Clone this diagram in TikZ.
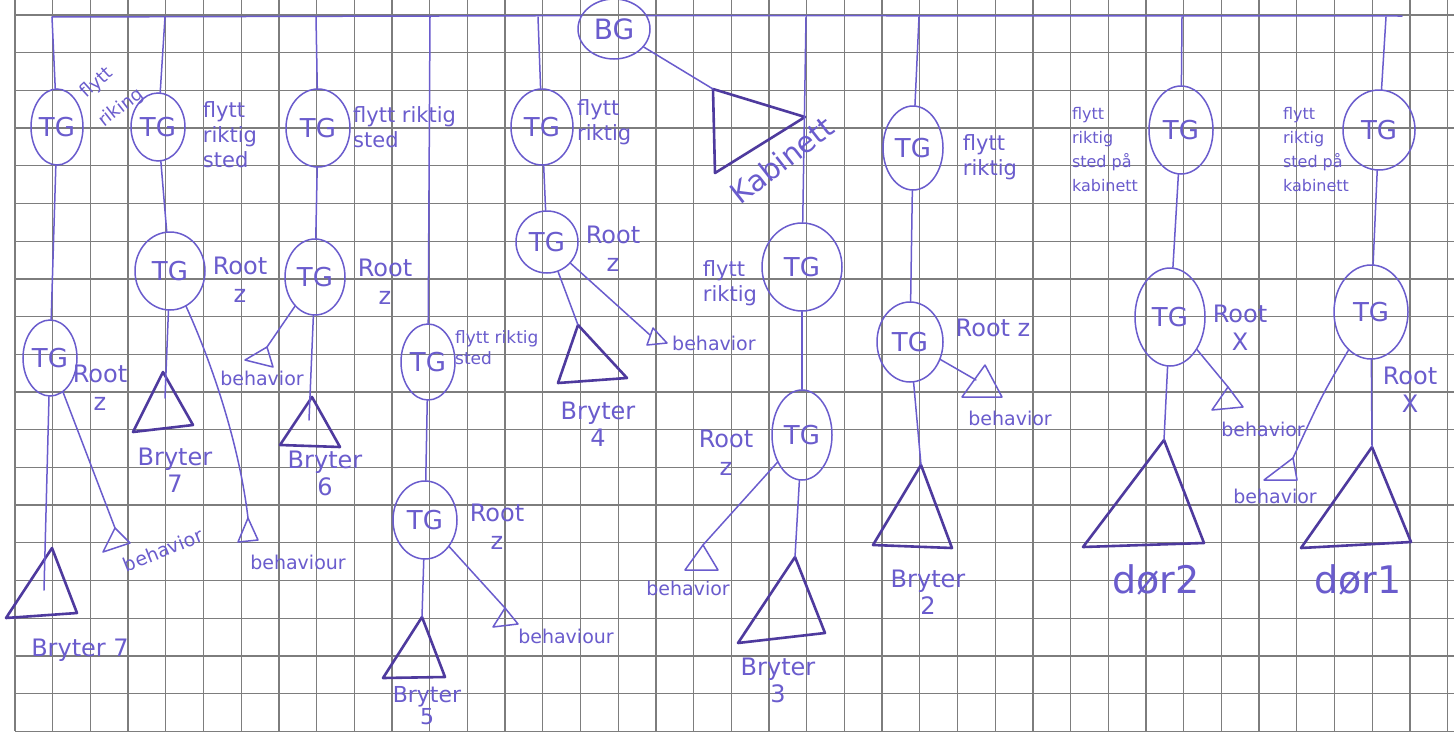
\documentclass[tikz,border=0pt]{standalone}
\usepackage{fontspec}
\setmainfont{DejaVu Sans}
\usetikzlibrary{shapes.geometric}
\definecolor{pen}{RGB}{106,92,205}
\definecolor{pend}{RGB}{78,58,158}
\definecolor{gridc}{RGB}{125,125,125}
\begin{document}
\begin{tikzpicture}[x=1pt,y=-1pt,
  gridline/.style={draw=gridc,line width=1.3pt},
  tgnode/.style={ellipse,draw=pen,line width=1.5pt,inner sep=0pt,text=pen,font=\fontsize{26}{26}\selectfont},
  conn/.style={draw=pen,line width=1.5pt,line cap=round},
  tribox/.style={draw=pend,line width=2.6pt,line join=round},
  smalltri/.style={draw=pen,line width=1.5pt,line join=round},
  flylbl/.style={text=pen,inner sep=0pt,align=left,font=\fontsize{21}{25}\selectfont},
  flysmall/.style={text=pen,inner sep=0pt,align=left,font=\fontsize{16}{24}\selectfont},
  rootlbl/.style={text=pen,inner sep=0pt,align=center,font=\fontsize{24}{28}\selectfont},
  behlbl/.style={text=pen,inner sep=0pt,font=\fontsize{19}{20}\selectfont},
  brylbl/.style={text=pen,inner sep=0pt,align=center,font=\fontsize{24}{27}\selectfont},
  doorlbl/.style={text=pen,inner sep=0pt,font=\fontsize{38}{38}\selectfont}
]
\fill[white] (0,0) rectangle (1454,734);
\useasboundingbox (0,0) rectangle (1454,734);
% grid paper
\foreach \i in {0,...,38} \draw[gridline] ({15+37.7*\i},0) -- ({15+37.7*\i},731);
\foreach \j in {0,...,19} \draw[gridline] (15,{15+37.7*\j}) -- (1454,{15+37.7*\j});

% ---------- BG and bus ----------
\node[tgnode,minimum width=72pt,minimum height=60pt,font=\fontsize{28}{28}\selectfont] (bg) at (614,29) {BG};
\coordinate (b1) at (52,17);
\coordinate (b2) at (165,17);
\coordinate (b3) at (316,17);
\coordinate (b4) at (430,17);
\coordinate (b5) at (538,17);
\coordinate (b6) at (806,17);
\coordinate (b7) at (919,17);
\coordinate (b8) at (1182,17);
\coordinate (b9) at (1386,17);
\coordinate (bend) at (1402,16);
\draw[conn] (b1) -- (bg.158);
\draw[conn] (bg.22) -- (bend);

% Kabinett
\coordinate (kab) at (713,89);
\draw[tribox] (kab) -- (805,117) -- (715,173) -- cycle;
\draw[conn] (bg) -- (kab);
\node[rootlbl,rotate=38,font=\fontsize{29}{29}\selectfont] (kablbl) at (782,160) {Kabinett};

% ---------- column 1 ----------
\node[tgnode,minimum width=52pt,minimum height=76pt] (tg1a) at (57,127) {TG};
\node[tgnode,minimum width=54pt,minimum height=76pt] (tg1b) at (50,358) {TG};
\coordinate (br7) at (52,548);
\coordinate (br7in) at (44,590);
\draw[tribox] (br7) -- (77,613) -- (6,618) -- cycle;
\coordinate (bh1) at (115,528);
\draw[smalltri] (bh1) -- (130,543) -- (103,552) -- cycle;
\draw[conn] (b1) -- (tg1a);
\draw[conn] (tg1a) -- (tg1b);
\draw[conn] (tg1b) -- (br7in);
\draw[conn] (tg1b) -- (bh1);
\node[flylbl,rotate=42,font=\fontsize{18}{18}\selectfont] (f1) at (97,83) {flytt};
\node[flylbl,rotate=38,font=\fontsize{18}{18}\selectfont] (f1b) at (121,108) {riking};
\node[rootlbl] (r1) at (100,388) {Root\\z};
\node[behlbl,rotate=22] (h1) at (163,550) {behavior};
\node[brylbl] (y1) at (80,650) {Bryter 7};

% ---------- column 2 ----------
\node[tgnode,minimum width=54pt,minimum height=68pt] (tg2a) at (158,127) {TG};
\node[tgnode,minimum width=70pt,minimum height=78pt] (tg2b) at (170,271) {TG};
\coordinate (br1) at (163,372);
\coordinate (br1in) at (165,398);
\draw[tribox] (br1) -- (193,425) -- (133,432) -- cycle;
\coordinate (bh2) at (248,518);
\draw[smalltri] (bh2) -- (258,540) -- (238,542) -- cycle;
\draw[conn] (b2) -- (tg2a);
\draw[conn] (tg2a) -- (tg2b);
\draw[conn] (tg2b) -- (br1in);
\draw[conn] (tg2b) .. controls (215,370) and (240,450) .. (bh2);
\node[flylbl] (f2) at (230,135) {flytt\\riktig\\sted};
\node[rootlbl] (r2) at (240,280) {Root\\z};
\node[behlbl] (h2) at (298,562) {behaviour};
\node[brylbl] (y2) at (175,470) {Bryter\\7};

% ---------- column 3 ----------
\node[tgnode,minimum width=64pt,minimum height=78pt] (tg3a) at (318,128) {TG};
\node[tgnode,minimum width=60pt,minimum height=76pt] (tg3b) at (315,277) {TG};
\coordinate (br6) at (312,397);
\coordinate (br6in) at (309,420);
\draw[tribox] (br6) -- (340,447) -- (280,445) -- cycle;
\coordinate (bh3) at (267,347);
\draw[smalltri] (bh3) -- (273,367) -- (245,360) -- cycle;
\draw[conn] (b3) -- (tg3a);
\draw[conn] (tg3a) -- (tg3b);
\draw[conn] (tg3b) -- (br6in);
\draw[conn] (tg3b) -- (bh3);
\node[flylbl,anchor=west] (f3) at (353,127) {flytt riktig\\sted};
\node[rootlbl] (r3) at (385,282) {Root\\z};
\node[behlbl] (h3) at (262,378) {behavior};
\node[brylbl] (y3) at (325,473) {Bryter\\6};

% ---------- column 4 ----------
\node[tgnode,minimum width=54pt,minimum height=76pt] (tg4a) at (428,362) {TG};
\node[tgnode,minimum width=64pt,minimum height=78pt] (tg4b) at (425,520) {TG};
\coordinate (br5) at (422,617);
\draw[tribox] (br5) -- (445,677) -- (383,678) -- cycle;
\coordinate (bh4) at (505,608);
\draw[smalltri] (bh4) -- (518,624) -- (493,627) -- cycle;
\draw[conn] (b4) -- (tg4a);
\draw[conn] (tg4a) -- (tg4b);
\draw[conn] (tg4b) -- (br5);
\draw[conn] (tg4b) -- (bh4);
\node[flylbl,anchor=west,font=\fontsize{17}{21}\selectfont] (f4) at (455,348) {flytt riktig\\sted};
\node[rootlbl] (r4) at (497,527) {Root\\z};
\node[behlbl] (h4) at (566,636) {behaviour};
\node[brylbl,font=\fontsize{22}{22}\selectfont] (y4) at (427,706) {Bryter\\5};

% ---------- column 5 ----------
\node[tgnode,minimum width=62pt,minimum height=76pt] (tg5a) at (542,127) {TG};
\node[tgnode,minimum width=62pt,minimum height=62pt] (tg5b) at (547,242) {TG};
\coordinate (br4) at (578,325);
\draw[tribox] (br4) -- (627,378) -- (558,383) -- cycle;
\coordinate (bh5) at (650,335);
\draw[smalltri] (653,328) -- (667,343) -- (647,345) -- cycle;
\draw[conn] (b5) -- (tg5a);
\draw[conn] (tg5a) -- (tg5b);
\draw[conn] (tg5b) -- (br4);
\draw[conn] (tg5b) -- (bh5);
\node[flylbl,anchor=west] (f5) at (577,122) {flytt\\riktig};
\node[rootlbl] (r5) at (613,249) {Root\\z};
\node[behlbl,anchor=west] (h5) at (672,343) {behavior};
\node[brylbl] (y5) at (598,424) {Bryter\\4};

% ---------- column 6 ----------
\node[tgnode,minimum width=80pt,minimum height=88pt] (tg6a) at (802,267) {TG};
\node[tgnode,minimum width=60pt,minimum height=90pt] (tg6b) at (802,435) {TG};
\coordinate (br3) at (795,557);
\draw[tribox] (br3) -- (825,633) -- (738,643) -- cycle;
\coordinate (bh6) at (703,545);
\draw[smalltri] (bh6) -- (718,570) -- (685,570) -- cycle;
\draw[conn] (b6) -- (tg6a);
\draw[conn] (tg6a) -- (tg6b);
\draw[conn] (tg6b) -- (br3);
\draw[conn] (tg6b) -- (bh6);
\node[flylbl] (f6) at (730,283) {flytt\\riktig};
\node[rootlbl] (r6) at (726,453) {Root\\z};
\node[behlbl] (h6) at (688,588) {behavior};
\node[brylbl] (y6) at (778,680) {Bryter\\3};

% ---------- column 7 ----------
\node[tgnode,minimum width=60pt,minimum height=84pt] (tg7a) at (913,148) {TG};
\node[tgnode,minimum width=66pt,minimum height=80pt] (tg7b) at (910,342) {TG};
\coordinate (br2) at (921,465);
\draw[tribox] (br2) -- (952,548) -- (873,545) -- cycle;
\coordinate (bh7) at (976,380);
\draw[smalltri] (985,365) -- (1002,397) -- (962,397) -- cycle;
\draw[conn] (b7) -- (tg7a);
\draw[conn] (tg7a) -- (tg7b);
\draw[conn] (tg7b) -- (br2);
\draw[conn] (tg7b) -- (bh7);
\node[flylbl] (f7) at (990,157) {flytt\\riktig};
\node[rootlbl] (r7) at (993,328) {Root z};
\node[behlbl] (h7) at (1010,418) {behavior};
\node[brylbl] (y7) at (928,592) {Bryter\\2};

% ---------- column 8 ----------
\node[tgnode,minimum width=64pt,minimum height=88pt] (tg8a) at (1181,130) {TG};
\node[tgnode,minimum width=70pt,minimum height=98pt] (tg8b) at (1170,317) {TG};
\coordinate (dr2) at (1164,440);
\draw[tribox] (dr2) -- (1204,543) -- (1083,547) -- cycle;
\coordinate (bh8) at (1228,387);
\draw[smalltri] (bh8) -- (1243,407) -- (1212,410) -- cycle;
\draw[conn] (b8) -- (tg8a);
\draw[conn] (tg8a) -- (tg8b);
\draw[conn] (tg8b) -- (dr2);
\draw[conn] (tg8b) -- (bh8);
\node[flysmall] (f8) at (1105,150) {flytt\\riktig\\sted på\\kabinett};
\node[rootlbl] (r8) at (1240,328) {Root\\X};
\node[behlbl] (h8) at (1263,429) {behavior};
\node[doorlbl] (y8) at (1156,580) {dør2};

% ---------- column 9 ----------
\node[tgnode,minimum width=72pt,minimum height=80pt] (tg9a) at (1379,130) {TG};
\node[tgnode,minimum width=74pt,minimum height=94pt] (tg9b) at (1371,312) {TG};
\coordinate (dr1) at (1372,447);
\draw[tribox] (dr1) -- (1411,542) -- (1301,548) -- cycle;
\coordinate (bh9) at (1293,458);
\draw[smalltri] (bh9) -- (1297,480) -- (1264,480) -- cycle;
\draw[conn] (b9) -- (tg9a);
\draw[conn] (tg9a) -- (tg9b);
\draw[conn] (tg9b) -- (dr1);
\draw[conn] (tg9b) .. controls (1322,395) .. (bh9);
\node[flysmall] (f9) at (1316,150) {flytt\\riktig\\sted på\\kabinett};
\node[rootlbl] (r9) at (1410,390) {Root\\X};
\node[behlbl] (h9) at (1275,496) {behavior};
\node[doorlbl] (y9) at (1358,580) {dør1};
\end{tikzpicture}
\end{document}
